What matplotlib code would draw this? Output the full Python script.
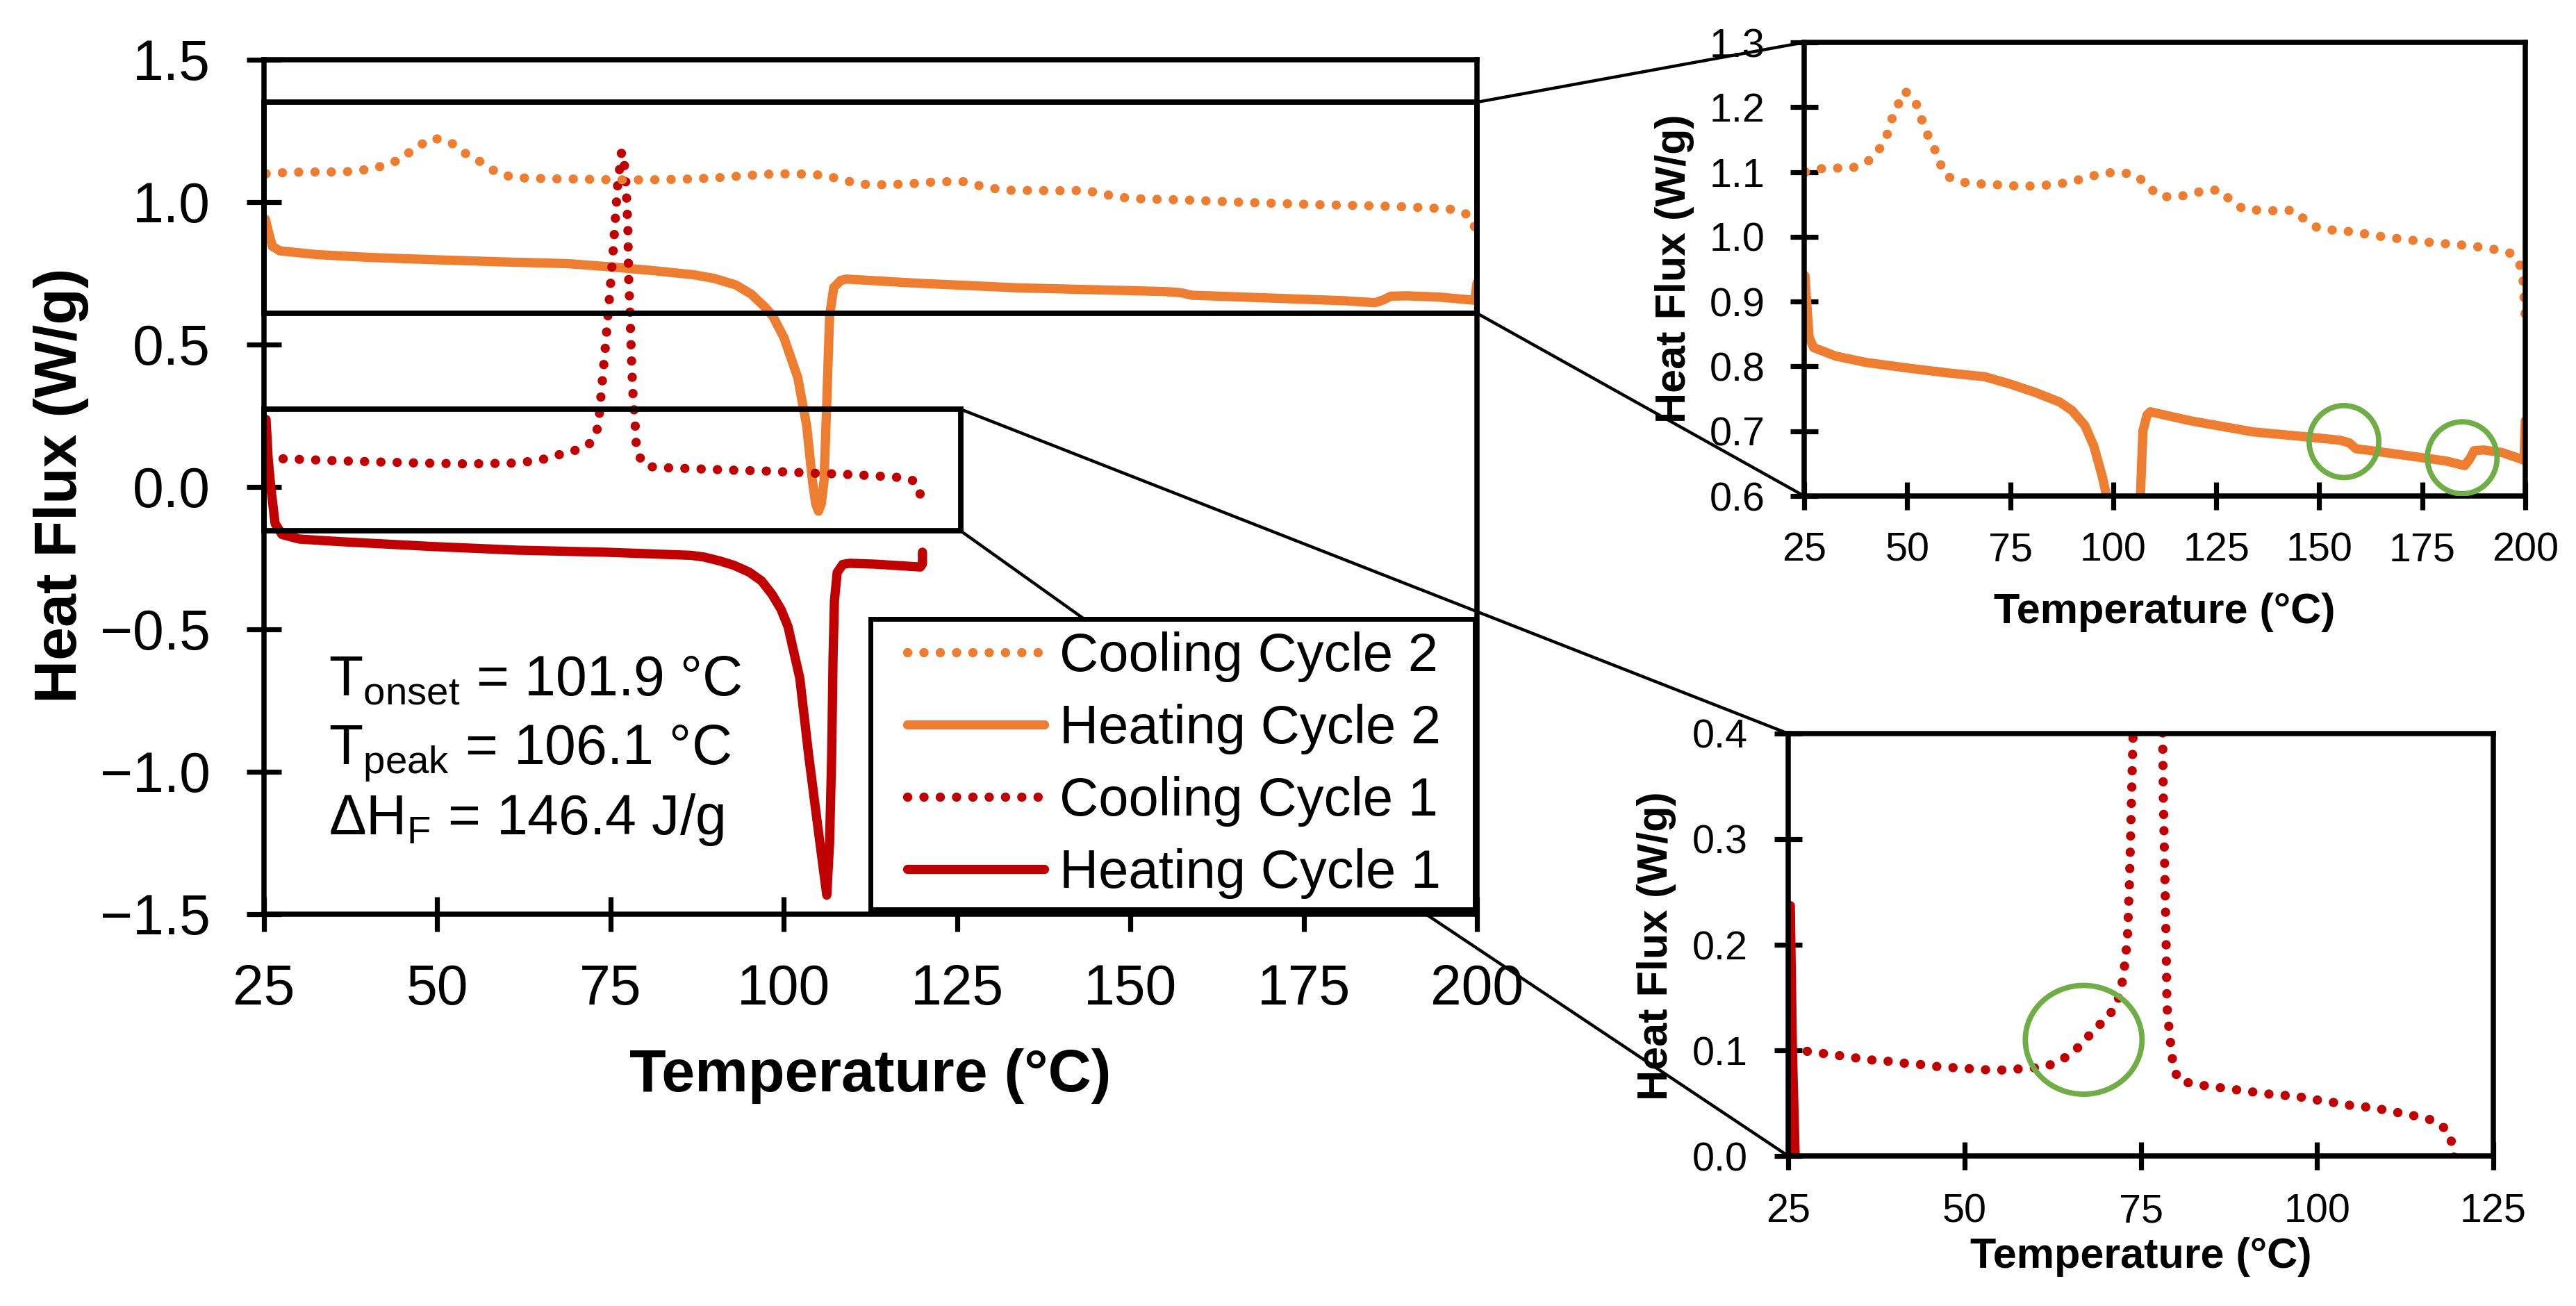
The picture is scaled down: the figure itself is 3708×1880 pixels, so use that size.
import matplotlib
matplotlib.use("Agg")
import matplotlib.pyplot as plt
from matplotlib.patches import Rectangle, Ellipse, ConnectionPatch
from matplotlib.lines import Line2D
from matplotlib.ticker import FuncFormatter

plt.rcParams['font.family'] = ['Liberation Sans', 'DejaVu Sans']
plt.rcParams['mathtext.fontset'] = 'custom'
plt.rcParams['mathtext.rm'] = 'Liberation Sans'

# ---------------- data ----------------
cool2_T = [25.3, 28.8, 32.7, 36.6, 40.4, 43.1, 45.0, 46.5, 47.8, 49.4, 51.8, 53.1, 54.5, 56.3,
           57.7, 59.2, 62.5, 66.4, 70.4, 74.3, 78.4, 82.3, 86.3, 90.0, 93.8, 97.6, 101.5, 105.5,
           108.3, 110.9, 114.7, 118.5, 122.3, 126.0, 128.8, 131.8, 135.7, 139.6, 143.6, 146.6,
           149.8, 153.7, 157.6, 161.6, 165.5, 169.4, 173.4, 177.3, 181.2, 185.2, 189.1, 193.0,
           196.8, 198.9, 199.5, 199.7, 200.0]
cool2_HF = [1.100, 1.105, 1.106, 1.106, 1.116, 1.134, 1.155, 1.186, 1.204, 1.225, 1.212, 1.189,
            1.163, 1.141, 1.118, 1.095, 1.085, 1.082, 1.081, 1.079, 1.078, 1.079, 1.081, 1.085,
            1.092, 1.098, 1.100, 1.095, 1.080, 1.063, 1.061, 1.065, 1.072, 1.072, 1.054, 1.042,
            1.041, 1.040, 1.041, 1.026, 1.013, 1.010, 1.008, 1.004, 1.000, 0.997, 0.994, 0.991,
            0.989, 0.987, 0.984, 0.980, 0.974, 0.954, 0.930, 0.905, 0.876]

heat2_T = [25.2, 25.6, 26.2, 27.3, 32.6, 40.1, 50.7, 59.8, 68.9, 74.9, 81.0, 87.0, 90.0, 93.1,
           95.3, 97.3, 98.4, 100.0, 102.0, 103.3, 104.1, 104.6, 105.0, 105.4, 105.8, 106.2,
           106.6, 107.2, 108.2, 109.0, 118.8, 133.9, 149.0, 155.1, 157.3, 158.9, 162.6, 171.7,
           180.8, 185.3, 186.5, 187.6, 189.9, 194.4, 199.0, 199.7, 200.0]
heat2_HF = [0.940, 0.900, 0.845, 0.829, 0.816, 0.806, 0.797, 0.790, 0.784, 0.773, 0.760, 0.745,
            0.732, 0.709, 0.677, 0.631, 0.600, 0.525, 0.385, 0.214, 0.027, -0.060, -0.085,
            -0.060, 0.020, 0.300, 0.600, 0.700, 0.725, 0.730, 0.716, 0.699, 0.690, 0.686, 0.682,
            0.673, 0.670, 0.662, 0.654, 0.647, 0.657, 0.670, 0.671, 0.667, 0.657, 0.655, 0.716]

cool1_T = [25.4, 27.8, 30.0, 32.3, 34.4, 36.6, 38.8, 41.1, 43.3, 45.6, 47.6, 49.9, 52.2, 54.4,
           56.7, 59.1, 61.3, 63.5, 65.4, 67.0, 68.6, 70.3, 71.6, 72.2, 72.6, 73.1, 73.4, 73.8,
           74.2, 74.6, 75.0, 75.4, 75.7, 76.0, 76.3, 76.6, 77.1, 77.3, 77.5, 77.6, 77.8, 78.0,
           78.2, 78.4, 78.6, 78.7, 78.8, 79.1, 79.3, 79.6, 80.3, 82.5, 84.7, 87.1, 89.3, 91.6,
           93.9, 96.2, 98.5, 100.8, 103.1, 105.4, 107.7, 110.0, 112.3, 114.6, 116.8, 118.5,
           119.3, 119.6, 120.0]
cool1_HF = [0.101, 0.099, 0.097, 0.095, 0.093, 0.091, 0.090, 0.088, 0.087, 0.085, 0.084, 0.083,
            0.082, 0.081, 0.082, 0.083, 0.084, 0.090, 0.098, 0.109, 0.121, 0.131, 0.144, 0.158,
            0.174, 0.205, 0.260, 0.370, 0.478, 0.595, 0.712, 0.836, 0.945, 1.054, 1.116, 1.178,
            1.116, 1.023, 0.914, 0.743, 0.619, 0.463, 0.339, 0.271, 0.200, 0.150, 0.132, 0.116,
            0.101, 0.086, 0.072, 0.068, 0.066, 0.064, 0.062, 0.060, 0.058, 0.057, 0.055, 0.052,
            0.050, 0.047, 0.046, 0.043, 0.040, 0.037, 0.033, 0.024, 0.009, -0.016, -0.071]

heat1_T = [25.3, 25.6, 26.0, 26.6, 27.6, 30.1, 36.8, 49.3, 61.7, 74.2, 86.6, 88.5, 90.8, 92.8,
           95.0, 96.8, 98.3, 99.6, 100.6, 102.3, 103.6, 104.8, 105.7, 106.2, 106.6, 106.9,
           107.1, 107.3, 107.7, 108.5, 109.5, 113.2, 119.7, 120.0, 120.0]
heat1_HF = [0.237, 0.100, -0.004, -0.128, -0.167, -0.183, -0.193, -0.209, -0.222, -0.229, -0.240,
            -0.246, -0.260, -0.275, -0.299, -0.330, -0.377, -0.430, -0.490, -0.671, -0.945,
            -1.173, -1.341, -1.433, -1.250, -0.945, -0.600, -0.400, -0.300, -0.272, -0.268,
            -0.271, -0.281, -0.270, -0.229]

labels = ["Cooling Cycle 2", "Heating Cycle 2", "Cooling Cycle 1", "Heating Cycle 1"]
annot_lines = [r"T$_{\mathregular{onset}}$ = 101.9 °C",
               r"T$_{\mathregular{peak}}$ = 106.1 °C",
               r"ΔH$_{\mathregular{F}}$ = 146.4 J/g"]

main_xticks = [25, 50, 75, 100, 125, 150, 175, 200]
main_yticks = [-1.5, -1.0, -0.5, 0.0, 0.5, 1.0, 1.5]
up_yticks = [0.6, 0.7, 0.8, 0.9, 1.0, 1.1, 1.2, 1.3]
low_xticks = [25, 50, 75, 100, 125]
low_yticks = [0.0, 0.1, 0.2, 0.3, 0.4]

# zoom regions (main data coords): x0, x1, y0, y1
zoomA = [25, 200, 0.610, 1.351]
zoomB = [25, 125.5, -0.154, 0.273]
# green highlight ellipses: (x, y, width, height)
up_circles = [(156.0, 0.684, 16.9, 0.111), (184.7, 0.659, 16.9, 0.111)]
low_circles = [(66.9, 0.110, 16.55, 0.103)]

ORANGE = "#ED7D31"
RED = "#C00000"
GREEN = "#70AD47"
LW = 4.8
DOT = (0, (0.01, 1.75))
SPW = 2.7

def fmt1(v, pos):
    return ("%.1f" % v).replace("-", "\u2212")

fig = plt.figure(figsize=(18.54, 9.4), dpi=200)
ax = fig.add_axes([0.10248, 0.3, 0.47087, 0.65426])
axU = fig.add_axes([0.70038, 0.62021, 0.27993, 0.34734])
axL = fig.add_axes([0.69418, 0.11489, 0.27373, 0.32341])

def style(a, ticklen, tickw, labsize, xpad, ypad, spw):
    for s in a.spines.values():
        s.set_linewidth(spw)
    a.tick_params(direction='inout', length=ticklen, width=tickw, labelsize=labsize,
                  top=False, right=False)
    a.tick_params(axis='x', pad=xpad)
    a.tick_params(axis='y', pad=ypad)

def plot_series(a, which):
    h = {}
    if 'h1' in which:
        h['h1'], = a.plot(heat1_T, heat1_HF, color=RED, lw=LW, solid_capstyle='round',
                          solid_joinstyle='round', label=labels[3], zorder=2)
    if 'h2' in which:
        h['h2'], = a.plot(heat2_T, heat2_HF, color=ORANGE, lw=LW, solid_capstyle='round',
                          solid_joinstyle='round', label=labels[1], zorder=2)
    if 'c1' in which:
        h['c1'], = a.plot(cool1_T, cool1_HF, color=RED, lw=LW, linestyle=DOT,
                          dash_capstyle='round', label=labels[2], zorder=2)
    if 'c2' in which:
        h['c2'], = a.plot(cool2_T, cool2_HF, color=ORANGE, lw=LW, linestyle=DOT,
                          dash_capstyle='round', label=labels[0], zorder=2)
    return h

# ---------------- main axes ----------------
hd = plot_series(ax, ['h1', 'h2', 'c1', 'c2'])
ax.set_xlim(25, 200)
ax.set_ylim(-1.5, 1.5)
ax.set_xticks(main_xticks)
ax.set_yticks(main_yticks)
ax.yaxis.set_major_formatter(FuncFormatter(fmt1))
style(ax, 18, 2.6, 29, 16.7, 18.7, SPW)
ax.set_xlabel("Temperature (°C)", fontsize=31, fontweight='bold')
ax.set_ylabel("Heat Flux (W/g)", fontsize=31, fontweight='bold')
ax.xaxis.set_label_coords(0.5, -0.207)
ax.xaxis.label.set_va('baseline')
ax.yaxis.set_label_coords(-0.1675, 0.5016)
ax.yaxis.label.set_va('center')
ax.yaxis.label.set_ha('center')

for i, s in enumerate(annot_lines):
    ax.text(34.3, -0.7317 - 0.2439 * i, s, fontsize=29, va='baseline', ha='left')

for (x0, x1, y0, y1) in (zoomA, zoomB):
    ax.add_patch(Rectangle((x0, y0), x1 - x0, y1 - y0, fill=False, ec='black', lw=2.8,
                           clip_on=False, zorder=3))

# legend box + legend
ax.add_patch(Rectangle((0.5, 0.0059), 0.4983, 0.3399, transform=ax.transAxes,
                       fc='white', ec='black', lw=2.5, clip_on=False, zorder=4.5))
leg = ax.legend([hd['c2'], hd['h2'], hd['c1'], hd['h1']], labels, loc='upper left',
                bbox_to_anchor=(0.5304, 0.331), borderaxespad=0, borderpad=0,
                frameon=False, fontsize=28, handlelength=2.53, handletextpad=0.28,
                labelspacing=0.40)
leg.set_zorder(5)

# ---------------- upper inset ----------------
plot_series(axU, ['h2', 'c2'])
axU.set_xlim(25, 200)
axU.set_ylim(0.6, 1.3)
axU.set_xticks(main_xticks)
axU.set_yticks(up_yticks)
axU.yaxis.set_major_formatter(FuncFormatter(fmt1))
style(axU, 14.4, 2.6, 20.7, 11.2, 13.1, SPW)
axU.set_xlabel("Temperature (°C)", fontsize=22, fontweight='bold')
axU.set_ylabel("Heat Flux (W/g)", fontsize=22, fontweight='bold')
axU.xaxis.set_label_coords(0.5, -0.280)
axU.xaxis.label.set_va('baseline')
axU.yaxis.set_label_coords(-0.180, 0.502)
axU.yaxis.label.set_va('center')
axU.yaxis.label.set_ha('center')
for (cx, cy, w, h) in up_circles:
    axU.add_patch(Ellipse((cx, cy), w, h, fill=False, ec=GREEN, lw=2.8, zorder=4))

# ---------------- lower inset ----------------
plot_series(axL, ['h1', 'c1'])
axL.set_xlim(25, 125)
axL.set_ylim(0.0, 0.4)
axL.set_xticks(low_xticks)
axL.set_yticks(low_yticks)
axL.yaxis.set_major_formatter(FuncFormatter(fmt1))
style(axL, 14.4, 2.6, 20.7, 12.2, 13.9, SPW)
axL.set_xlabel("Temperature (°C)", fontsize=22, fontweight='bold')
axL.set_ylabel("Heat Flux (W/g)", fontsize=22, fontweight='bold')
axL.xaxis.set_label_coords(0.5, -0.265)
axL.xaxis.label.set_va('baseline')
axL.yaxis.set_label_coords(-0.187, 0.498)
axL.yaxis.label.set_va('center')
axL.yaxis.label.set_ha('center')
for (cx, cy, w, h) in low_circles:
    axL.add_patch(Ellipse((cx, cy), w, h, fill=False, ec=GREEN, lw=2.8, zorder=4))

# ---------------- connector lines ----------------
def conn(xyA, axB, xyB):
    cp = ConnectionPatch(xyA=xyA, coordsA=ax.transData, xyB=xyB, coordsB=axB.transAxes,
                         color='black', lw=1.6, zorder=3)
    cp.set_clip_on(False)
    ax.add_artist(cp)

conn((zoomA[1], zoomA[3]), axU, (0, 1))
conn((zoomA[1], zoomA[2]), axU, (0, 0))
conn((zoomB[1], zoomB[3]), axL, (0, 1))
# lower connector of zoom B passes behind the legend with a bend
bend = [(zoomB[1], zoomB[2]), (158.8, -0.732), (175.4, -1.22)]
ax.add_line(Line2D([p[0] for p in bend], [p[1] for p in bend], color='black', lw=1.6,
                   zorder=3, clip_on=False))
conn(bend[-1], axL, (0, 0))

fig.savefig("out.png", dpi=200)
